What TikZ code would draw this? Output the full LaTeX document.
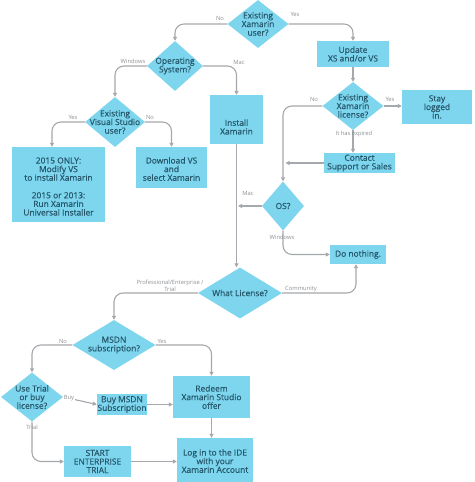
\documentclass[tikz,border=0pt]{standalone}
\usepackage{fontspec}
\setmainfont{Open Sans}
\newfontfamily\boxfont{Open Sans}[FakeBold=0.6]
\usetikzlibrary{shapes.geometric,arrows.meta}
\definecolor{boxfill}{RGB}{125,214,238}
\definecolor{boxtext}{RGB}{38,88,108}
\definecolor{linegrey}{RGB}{165,168,172}
\definecolor{labgrey}{RGB}{140,144,148}
\tikzset{
  boxnode/.style={fill=boxfill,draw=none,inner sep=0pt},
  dia/.style={diamond,fill=boxfill,draw=none,inner sep=0pt},
  txt/.style={text=boxtext,font=\boxfont\fontsize{8.4}{8.6}\selectfont,align=center,inner sep=0pt},
  lab/.style={text=labgrey,font=\fontsize{5.8}{6.6}\selectfont,align=center,inner sep=0pt},
  conn/.style={draw=linegrey,line width=1.1pt,rounded corners=9pt,-{Triangle[width=4pt,length=4pt]}},
}
\begin{document}
\begin{tikzpicture}[x=1pt,y=-1pt]
\useasboundingbox (0,0) rectangle (474,482);
\fill[white] (0,0) rectangle (474,482);
% diamonds
\node[dia,minimum width=61pt,minimum height=48pt] (xu) at (258,24) {};
\node[txt] at (xu) {Existing\\Xamarin\\user?};
\node[dia,minimum width=56pt,minimum height=50pt] (os) at (175,66) {};
\node[txt] at (os) {Operating\\System?};
\node[dia,minimum width=60pt,minimum height=50pt] (vs) at (115,122) {};
\node[txt] at (vs) {Existing\\Visual Studio\\user?};
\node[dia,minimum width=61pt,minimum height=48pt] (lic) at (353,106) {};
\node[txt] at (lic) {Existing\\Xamarin\\license?};
\node[dia,minimum width=42pt,minimum height=49pt] (os2) at (283,206) {};
\node[txt] at (os2) {OS?};
\node[dia,minimum width=84pt,minimum height=51pt] (wl) at (240,293) {};
\node[txt] at (wl) {What License?};
\node[dia,minimum width=83pt,minimum height=50pt] (msdn) at (114,345) {};
\node[txt] at (msdn) {MSDN\\subscription?};
\node[dia,minimum width=62pt,minimum height=49pt] (ut) at (32,397) {};
\node[txt] at (ut) {Use Trial\\or buy\\license?};
% boxes
\node[boxnode,minimum width=93pt,minimum height=75pt] (b15) at (58.5,184.5) {};
\node[txt] at ([yshift=-2pt]b15.center) {2015 ONLY:\\Modify VS\\to install Xamarin\\[9pt]2015 or 2013:\\Run Xamarin\\Universal Installer};
\node[boxnode,minimum width=71pt,minimum height=41pt] (dl) at (171.5,167.5) {};
\node[txt] at ([yshift=-1.5pt]dl.center) {Download VS\\and\\select Xamarin};
\node[boxnode,minimum width=53pt,minimum height=49pt] (inst) at (236.5,119.5) {};
\node[txt] at ([yshift=-7.5pt]inst.center) {Install\\Xamarin};
\node[boxnode,minimum width=72pt,minimum height=26pt] (upd) at (353,54) {};
\node[txt] at (upd) {Update\\XS and/or VS};
\node[boxnode,minimum width=70pt,minimum height=34pt] (stay) at (437,107) {};
\node[txt] at (stay) {Stay\\logged\\in.};
\node[boxnode,minimum width=71pt,minimum height=20pt] (cs) at (359.5,163) {};
\node[txt] at (cs) {Contact\\Support or Sales};
\node[boxnode,minimum width=56pt,minimum height=19pt] (dn) at (358,254.5) {};
\node[txt] at (dn) {Do nothing.};
\node[boxnode,minimum width=50pt,minimum height=21pt] (buy) at (122,404.5) {};
\node[txt] at (buy) {Buy MSDN\\Subscription};
\node[boxnode,minimum width=77pt,minimum height=42pt] (red) at (211.5,397) {};
\node[txt] at (red) {Redeem\\Xamarin Studio\\offer};
\node[boxnode,minimum width=67pt,minimum height=31pt] (st) at (97.5,461.5) {};
\node[txt] at (st) {START\\ENTERPRISE\\TRIAL};
\node[boxnode,minimum width=76pt,minimum height=44pt] (log) at (215,460) {};
\node[txt] at ([yshift=-1pt]log.center) {Log in to the IDE\\with your\\Xamarin Account};
% connectors
\draw[conn] (xu.west) -| (os.north);
\draw[conn] (xu.east) -| (upd.north);
\draw[conn] (os.west) -| (vs.north);
\draw[conn] (os.east) -| (inst.north);
\draw[conn] (vs.west) -| ([xshift=-6.5pt]b15.north);
\draw[conn] (vs.east) -| (dl.north);
\draw[conn] (upd.south) -- (lic.north);
\draw[conn] (lic.east) -- (stay.west |- lic.east);
\draw[conn] (lic.south) -- (cs.north -| lic.south);
\draw[conn] (lic.west) -| (os2.north);
\coordinate (cj) at (285.5,163);
\draw[conn] (cs.west) -- (cj);
\draw[conn] (inst.south) -- (wl.north -| inst.south);
\coordinate (mj) at (238,206);
\draw[conn] (os2.west) -- (mj);
\draw[conn] (os2.south) |- (dn.west);
\draw[conn] (wl.east) -| ([xshift=-2pt]dn.south);
\draw[conn] (wl.west) -| (msdn.north);
\draw[conn] (msdn.west) -| (ut.north);
\draw[conn] (msdn.east) -| (red.north);
\draw[conn] (ut.east) -- (buy.west);
\draw[conn] (buy.east) -- (buy.east -| red.west);
\draw[conn] (ut.south) |- (st.west);
\draw[conn] (st.east) -- (st.east -| log.west);
\draw[conn] (red.south) -- (log.north -| red.south);
% labels
\node[lab] at (220,18) {No};
\node[lab] at (295,14) {Yes};
\node[lab] at (133,61) {Windows};
\node[lab] at (239,62) {Mac};
\node[lab] at (73,117) {Yes};
\node[lab] at (150,117) {No};
\node[lab] at (314,99) {No};
\node[lab] at (390,99) {Yes};
\node[lab] at (354,134) {It has expired};
\node[lab] at (248,193) {Mac};
\node[lab] at (282,237) {Windows};
\node[lab] at (301,289) {Community};
\node[lab] at (170,286) {Professional/Enterprise /\\Trial};
\node[lab] at (63,341) {No};
\node[lab] at (162,341) {Yes};
\node[lab,fill=white,inner sep=0.5pt] at (69,398) {Buy};
\node[lab] at (32,427) {Trial};
\end{tikzpicture}
\end{document}
